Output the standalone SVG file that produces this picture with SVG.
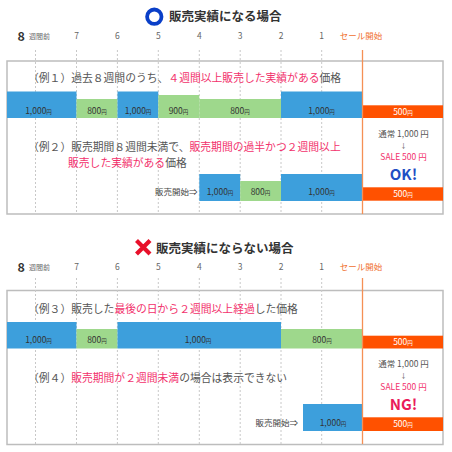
<svg xmlns="http://www.w3.org/2000/svg" width="452" height="452" viewBox="0 0 452 452">
<style>
text{font-family:"Noto Sans CJK JP","Noto Sans",sans-serif}
.ttl{font-size:12.5px;font-weight:bold;fill:#333}
.ax{font-size:8.5px;fill:#666;text-anchor:middle}
.ax8{font-size:12.5px;font-weight:bold;fill:#333}
.axs{font-size:7px;fill:#666}
.sale{font-size:8.5px;fill:#f07030;text-anchor:middle}
.ex{font-size:10.8px;fill:#555}
.pk{fill:#f2316c}
.lb{font-size:8.5px;fill:#333;text-anchor:middle}
.lbw{font-size:8.5px;fill:#fff;text-anchor:middle}
.yen{font-size:5.5px}
.rt{font-size:8.5px;fill:#555;text-anchor:middle}
.arr{font-size:6.5px;fill:#555;text-anchor:middle}
.rtp{font-size:8.5px;fill:#f2316c;text-anchor:middle}
.ok{font-size:15px;font-weight:bold;fill:#1f4fc4;text-anchor:middle}
.ng{font-size:15px;font-weight:bold;fill:#ea1c5a;text-anchor:middle}
.st{font-size:8.5px;fill:#444;text-anchor:end}
.dash{stroke:#c8c8c8;stroke-width:1;stroke-dasharray:2 2;fill:none}
.oline{stroke:#f59055;stroke-width:1.3;fill:none}
.box{fill:#fff;stroke:#bdbdbd;stroke-width:1.5}
.b{fill:#3d9fdc}
.g{fill:#9ed88c}
.o{fill:#ff5100}
</style>
<rect width="452" height="452" fill="#fff"/>

<!-- Section 1 -->
<g id="title1">
<circle cx="154.3" cy="16.7" r="7.2" fill="none" stroke="#0a3fc8" stroke-width="3.8"/>
<text class="ttl" x="169" y="21">販売実績になる場合</text>
</g>
<g id="axis1">
<text class="ax8" x="17.5" y="40.5">8</text>
<text class="axs" x="29" y="39">週間前</text>
<text class="ax" x="76.5" y="39">7</text>
<text class="ax" x="117.3" y="39">6</text>
<text class="ax" x="158.3" y="39">5</text>
<text class="ax" x="199.3" y="39">4</text>
<text class="ax" x="240" y="39">3</text>
<text class="ax" x="281" y="39">2</text>
<text class="ax" x="321.7" y="39">1</text>
<text class="sale" x="361" y="39">セール開始</text>
</g>
<rect id="box1" class="box" x="7" y="61" width="436" height="153"/>
<g id="grid1">
<path class="dash" d="M35.5 50V214M76.5 50V214M117.4 50V214M158.3 50V214M199.3 50V214M240.2 50V214M281 50V214M321.7 50V214"/>
</g>

<g id="example1">
<text class="ex" x="28" y="82">（例１）過去８週間のうち、<tspan class="pk">４週間以上販売した実績がある</tspan>価格</text>
<rect class="b" x="7" y="91.5" width="69.5" height="26.5"/>
<rect class="g" x="76.5" y="99" width="41" height="19"/>
<rect class="b" x="117.5" y="91.5" width="40.8" height="26.5"/>
<rect class="g" x="158.3" y="95" width="41" height="23"/>
<rect class="g" x="199.3" y="99" width="81.7" height="19"/>
<rect class="b" x="281" y="91.5" width="81" height="26.5"/>
<rect class="o" x="362" y="105.3" width="81" height="12.7"/>
<text class="lb" x="38.5" y="114">1,000<tspan class="yen">円</tspan></text>
<text class="lb" x="97" y="114">800<tspan class="yen">円</tspan></text>
<text class="lb" x="138" y="114">1,000<tspan class="yen">円</tspan></text>
<text class="lb" x="178.5" y="114">900<tspan class="yen">円</tspan></text>
<text class="lb" x="240" y="114">800<tspan class="yen">円</tspan></text>
<text class="lb" x="321.5" y="114">1,000<tspan class="yen">円</tspan></text>
<text class="lbw" x="403" y="114.5">500<tspan class="yen">円</tspan></text>
</g>

<g id="example2">
<text class="ex" x="28" y="151">（例２）販売期間８週間未満で、<tspan class="pk">販売期間の過半かつ２週間以上</tspan></text>
<text class="ex" x="68" y="166.7"><tspan class="pk">販売した実績がある</tspan>価格</text>
<text class="st" x="197.5" y="195">販売開始⇒</text>
<rect class="b" x="199.3" y="174" width="40.9" height="27"/>
<rect class="g" x="240.2" y="181" width="40.8" height="20"/>
<rect class="b" x="281" y="174" width="81" height="27"/>
<rect class="o" x="362" y="187.3" width="81" height="13.4"/>
<text class="lb" x="220" y="195">1,000<tspan class="yen">円</tspan></text>
<text class="lb" x="260.5" y="195">800<tspan class="yen">円</tspan></text>
<text class="lb" x="321.5" y="195">1,000<tspan class="yen">円</tspan></text>
<text class="lbw" x="403" y="197">500<tspan class="yen">円</tspan></text>
<text class="rt" x="403.5" y="136.5">通常 1,000 円</text>
<text class="arr" x="403.5" y="147.6">↓</text>
<text class="rtp" x="403.5" y="159.5">SALE 500 円</text>
<text class="ok" x="403.5" y="179.6">OK!</text>
</g>
<path id="saleline1" class="oline" d="M362.5 50V214"/>

<!-- Section 2 -->
<g id="title2">
<path d="M136.5 240.5L150 254M150 240.5L136.5 254" stroke="#e8102a" stroke-width="4.2" fill="none"/>
<text class="ttl" x="156" y="252.5">販売実績にならない場合</text>
</g>
<g id="axis2">
<text class="ax8" x="17.5" y="271.5">8</text>
<text class="axs" x="29" y="270">週間前</text>
<text class="ax" x="76.5" y="270">7</text>
<text class="ax" x="117.3" y="270">6</text>
<text class="ax" x="158.3" y="270">5</text>
<text class="ax" x="199.3" y="270">4</text>
<text class="ax" x="240" y="270">3</text>
<text class="ax" x="281" y="270">2</text>
<text class="ax" x="321.7" y="270">1</text>
<text class="sale" x="361" y="270">セール開始</text>
</g>
<rect id="box2" class="box" x="7" y="290.5" width="436" height="154"/>
<g id="grid2">
<path class="dash" d="M35.5 278V444M76.5 278V444M117.4 278V444M158.3 278V444M199.3 278V444M240.2 278V444M281 278V444M321.7 278V444"/>
</g>

<g id="example3">
<text class="ex" x="28" y="312.5">（例３）販売した<tspan class="pk">最後の日から２週間以上経過</tspan>した価格</text>
<rect class="b" x="7" y="322" width="69.5" height="26.5"/>
<rect class="g" x="76.5" y="329" width="41" height="19.5"/>
<rect class="b" x="117.5" y="322" width="163.5" height="26.5"/>
<rect class="g" x="281" y="329" width="81" height="19.5"/>
<rect class="o" x="362" y="335.7" width="81" height="12.8"/>
<text class="lb" x="38.5" y="343">1,000<tspan class="yen">円</tspan></text>
<text class="lb" x="97" y="343">800<tspan class="yen">円</tspan></text>
<text class="lb" x="198" y="343">1,000<tspan class="yen">円</tspan></text>
<text class="lb" x="322" y="343">800<tspan class="yen">円</tspan></text>
<text class="lbw" x="403" y="344.5">500<tspan class="yen">円</tspan></text>
</g>

<g id="example4">
<text class="ex" x="28" y="381.5">（例４）<tspan class="pk">販売期間が２週間未満</tspan>の場合は表示できない</text>
<text class="st" x="298" y="426">販売開始⇒</text>
<rect class="b" x="303" y="404" width="59" height="27"/>
<rect class="o" x="362" y="417.3" width="81" height="13.7"/>
<text class="lb" x="333" y="426">1,000<tspan class="yen">円</tspan></text>
<text class="lbw" x="403" y="427">500<tspan class="yen">円</tspan></text>
<text class="rt" x="403.5" y="366.5">通常 1,000 円</text>
<text class="arr" x="403.5" y="377.6">↓</text>
<text class="rtp" x="403.5" y="389.5">SALE 500 円</text>
<text class="ng" x="403.5" y="409.6">NG!</text>
</g>
<path id="saleline2" class="oline" d="M362.5 278V444"/>
</svg>
